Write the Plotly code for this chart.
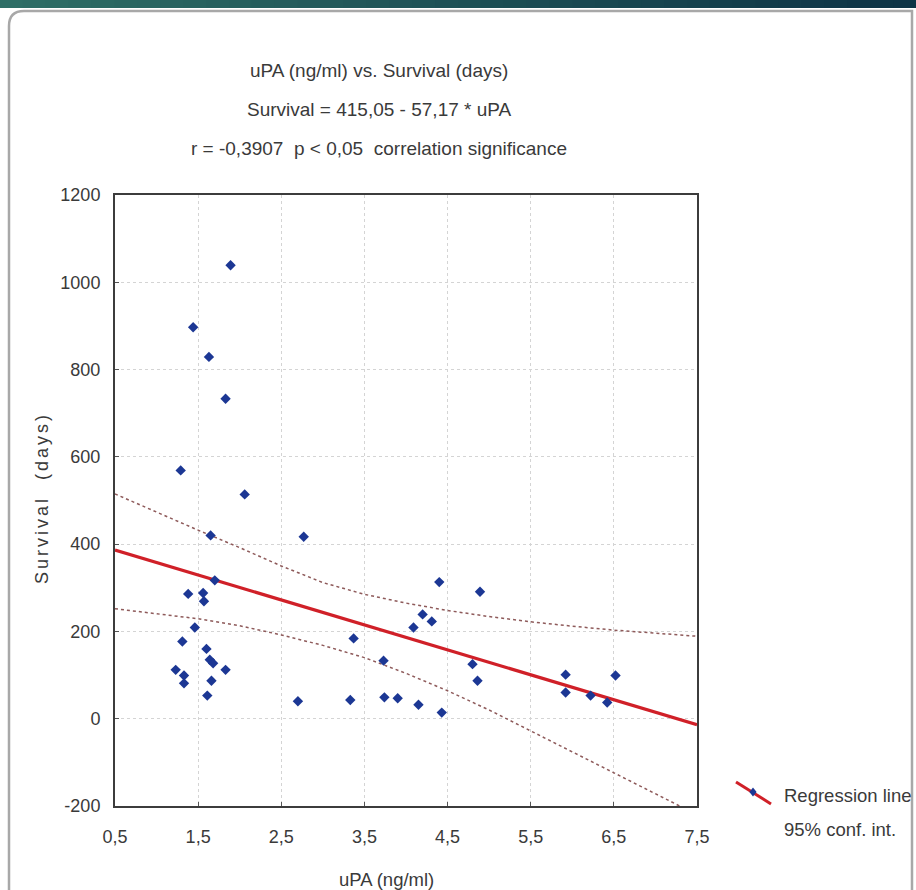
import plotly.graph_objects as go

# ---- data ----
upa = [1.89, 1.44, 1.63, 1.83, 1.29, 2.06, 1.65, 2.77, 1.70, 1.38, 1.56, 1.57, 1.46, 1.31,
       1.60, 1.64, 1.68, 1.83, 1.23, 1.33, 1.33, 1.66, 1.61, 2.70, 3.33, 3.37, 3.73, 3.74,
       3.90, 4.15, 4.43, 4.09, 4.20, 4.31, 4.40, 4.89, 4.80, 4.86, 5.92, 5.92, 6.22, 6.42, 6.52]
survival = [1039, 897, 829, 733, 569, 514, 420, 417, 317, 286, 288, 269, 209, 177,
            160, 135, 127, 112, 112, 99, 81, 87, 53, 40, 43, 184, 133, 49,
            47, 32, 14, 209, 239, 223, 313, 291, 125, 87, 101, 60, 53, 37, 99]

reg_x = [0.5, 7.5]
reg_y = [386.5, -13.7]

band_x = [0.5, 1.0, 1.5, 2.0, 2.5, 3.0, 3.5, 4.0, 4.5, 5.0, 5.5, 6.0, 6.5, 7.0, 7.5]
band_upper = [515, 473, 432, 392, 350, 312, 285, 265, 248, 234, 222, 212, 203, 196, 189]
band_lower = [252, 241, 229, 213, 192, 168, 140, 104, 64, 20, -28, -76, -125, -173, -220]

x_ticks = [0.5, 1.5, 2.5, 3.5, 4.5, 5.5, 6.5, 7.5]
x_ticktext = ["0,5", "1,5", "2,5", "3,5", "4,5", "5,5", "6,5", "7,5"]
y_ticks = [-200, 0, 200, 400, 600, 800, 1000, 1200]
y_ticktext = ["-200", "0", "200", "400", "600", "800", "1000", "1200"]

title_lines = ["uPA (ng/ml) vs. Survival (days)",
               "Survival = 415,05 - 57,17 * uPA",
               "r = -0,3907  p < 0,05  correlation significance"]
x_title = "uPA (ng/ml)"
y_title = "Survival  (days)"
legend_labels = ["Regression line", "95% conf. int."]

FONT = "Liberation Sans Narrow, Arial Narrow, Liberation Sans, Arial, sans-serif"
TXT = "#3a3a3a"
BLUE = "#1c3794"
RED = "#d02028"

W, H = 916, 890
L, R, T, B = 115, 916 - 697, 195, 890 - 806
PW, PH = W - L - R, H - T - B


def px(xp):
    return (xp - L) / PW


def py(yp):
    return (H - B - yp) / PH


fig = go.Figure()

fig.add_trace(go.Scatter(x=band_x, y=band_upper, mode="lines",
                         line=dict(color="#8e5a5a", width=1.5, dash="dot"),
                         showlegend=False, hoverinfo="skip"))
fig.add_trace(go.Scatter(x=band_x, y=band_lower, mode="lines",
                         line=dict(color="#8e5a5a", width=1.5, dash="dot"),
                         showlegend=False, hoverinfo="skip"))
fig.add_trace(go.Scatter(x=reg_x, y=reg_y, mode="lines",
                         line=dict(color=RED, width=3.2),
                         showlegend=False))
fig.add_trace(go.Scatter(x=upa, y=survival, mode="markers",
                         marker=dict(symbol="diamond", size=8, color=BLUE,
                                     line=dict(width=0)),
                         showlegend=False))

shapes = []
# top gradient bar
n = 40
c0 = (46, 110, 102)
c1 = (14, 52, 70)
for i in range(n):
    t = i / (n - 1)
    col = "rgb(%d,%d,%d)" % tuple(int(c0[k] + (c1[k] - c0[k]) * t) for k in range(3))
    shapes.append(dict(type="rect", xref="paper", yref="paper",
                       x0=px(i * W / n), x1=px((i + 1) * W / n + 1),
                       y0=py(8), y1=py(0), line=dict(width=0), fillcolor=col, layer="below"))
# rounded frame
path = "M {a},{b} L {a},{c} Q {a},{d} {e},{d} L {f},{d} L {f},{b}".format(
    a=px(9), b=py(900), c=py(26), d=py(11), e=px(24), f=px(912))
shapes.append(dict(type="path", xref="paper", yref="paper", path=path,
                   line=dict(color="#a8a8a8", width=2.5), layer="below"))
# legend line sample
shapes.append(dict(type="line", xref="paper", yref="paper",
                   x0=px(736), y0=py(782), x1=px(771), y1=py(804),
                   line=dict(color=RED, width=3)))
# legend marker sample (diamond)
mx, my, s = 753, 792, 4.5
shapes.append(dict(type="path", xref="paper", yref="paper",
                   path="M {},{} L {},{} L {},{} L {},{} Z".format(
                       px(mx), py(my - s), px(mx + s * 0.8), py(my),
                       px(mx), py(my + s), px(mx - s * 0.8), py(my)),
                   fillcolor=BLUE, line=dict(width=0)))

annotations = []
for txt, yp in zip(title_lines, [71, 110, 149]):
    annotations.append(dict(text=txt, xref="paper", yref="paper", x=px(379), y=py(yp),
                            xanchor="center", yanchor="middle", showarrow=False,
                            font=dict(family=FONT, size=19, color=TXT)))
annotations.append(dict(text=x_title, xref="paper", yref="paper",
                        x=px(386), y=py(879), xanchor="center", yanchor="middle",
                        showarrow=False, font=dict(family=FONT, size=18.5, color=TXT)))
annotations.append(dict(text='<span style="letter-spacing:3px">' + y_title + "</span>",
                        xref="paper", yref="paper",
                        x=px(42), y=py(498), xanchor="center", yanchor="middle",
                        textangle=-90, showarrow=False,
                        font=dict(family=FONT, size=18, color=TXT)))
for txt, yp in zip(legend_labels, [795, 830]):
    annotations.append(dict(text=txt, xref="paper", yref="paper", x=px(782), y=py(yp),
                            xanchor="left", yanchor="middle", align="left", showarrow=False,
                            font=dict(family=FONT, size=18.5, color=TXT)))

axis_common = dict(showline=True, mirror=True, linecolor="#3c3c3c", linewidth=2,
                   showgrid=True, gridcolor="#d4d4d4", griddash="dot", gridwidth=1,
                   zeroline=False, ticks="inside", ticklen=4, tickcolor="#555",
                   tickfont=dict(family=FONT, size=18, color=TXT))

fig.update_layout(
    width=W, height=H,
    margin=dict(l=L, r=R, t=T, b=B, pad=0),
    paper_bgcolor="white", plot_bgcolor="white",
    showlegend=False,
    shapes=shapes, annotations=annotations,
    xaxis=dict(range=[0.5, 7.5], tickvals=x_ticks, ticktext=x_ticktext,
               ticklabelstandoff=13, **axis_common),
    yaxis=dict(range=[-200, 1200], tickvals=y_ticks, ticktext=y_ticktext,
               ticklabelstandoff=9, **axis_common),
)

fig.write_html("out.html")
